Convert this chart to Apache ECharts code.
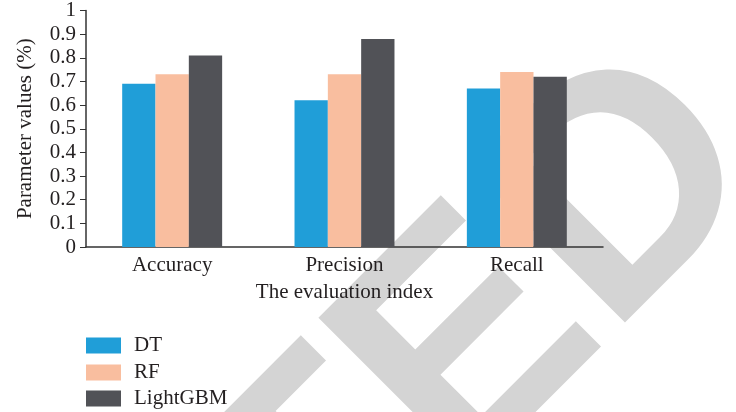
<!DOCTYPE html>
<html>
<head>
<meta charset="utf-8">
<script src="https://cdn.jsdelivr.net/npm/echarts@6/dist/echarts.min.js"></script>
<style>
  html, body { margin: 0; padding: 0; background: #fff; }
  #main { width: 736px; height: 412px; }
</style>
</head>
<body>
<div id="main"></div>
<script>
const categories = ['Accuracy', 'Precision', 'Recall'];
const seriesNames = ['DT', 'RF', 'LightGBM'];
const dtValues = [0.69, 0.62, 0.67];
const rfValues = [0.73, 0.73, 0.74];
const lgbmValues = [0.81, 0.88, 0.72];
const colors = ['#209ed8', '#f9be9f', '#515257'];
const watermark = 'RETRACTED';

const serif = '"Liberation Serif", "Times New Roman", serif';
const textColor = '#231f20';

const chart = echarts.init(document.getElementById('main'));

// one legend per series so the stacked list never wraps
const legendTops = [335, 362, 388];
const legends = seriesNames.map((name, i) => ({
    orient: 'vertical',
    left: 86,
    top: legendTops[i],
    padding: 0,
    icon: 'rect',
    itemWidth: 35,
    itemHeight: 16,
    textStyle: {
        fontFamily: serif,
        fontSize: 21,
        color: textColor,
        padding: [0, 0, 0, 8]
    },
    data: [name]
}));

const option = {
    animation: false,
    color: colors,
    textStyle: { fontFamily: serif },
    graphic: [
        {
            type: 'text',
            z: -10,
            silent: true,
            x: 824,
            y: 225,
            rotation: Math.PI / 4,
            style: {
                text: watermark,
                fontSize: 320,
                fontWeight: 'bold',
                fontFamily: '"Liberation Sans", Arial, sans-serif',
                fill: '#d4d4d4',
                align: 'right',
                verticalAlign: 'bottom'
            }
        }
    ],
    grid: { left: 86, right: 133, top: 8, bottom: 165 },
    legend: legends,
    xAxis: {
        type: 'category',
        data: categories,
        name: 'The evaluation index',
        nameLocation: 'middle',
        nameGap: 35,
        nameTextStyle: { fontFamily: serif, fontSize: 21, color: textColor },
        axisLine: { lineStyle: { color: '#333', width: 1.5 } },
        axisTick: { show: false },
        axisLabel: { fontFamily: serif, fontSize: 21, color: textColor, margin: 8 }
    },
    yAxis: {
        type: 'value',
        min: 0,
        max: 1,
        interval: 0.1,
        name: 'Parameter values (%)',
        nameLocation: 'middle',
        nameGap: 50,
        nameTextStyle: { fontFamily: serif, fontSize: 21, color: textColor },
        axisLine: { show: true, lineStyle: { color: '#333', width: 1.5 } },
        axisTick: { show: true, inside: false, length: 6, lineStyle: { color: '#333' } },
        splitLine: { show: false },
        axisLabel: {
            fontFamily: serif,
            fontSize: 21,
            color: textColor,
            margin: 10,
            formatter: v => String(Math.round(v * 10) / 10)
        }
    },
    series: [
        { name: seriesNames[0], type: 'bar', data: dtValues, barGap: '0%', barCategoryGap: '42%' },
        { name: seriesNames[1], type: 'bar', data: rfValues, barGap: '0%', barCategoryGap: '42%' },
        { name: seriesNames[2], type: 'bar', data: lgbmValues, barGap: '0%', barCategoryGap: '42%' }
    ]
};

chart.setOption(option);
window.addEventListener('resize', () => chart.resize());
</script>
</body>
</html>
